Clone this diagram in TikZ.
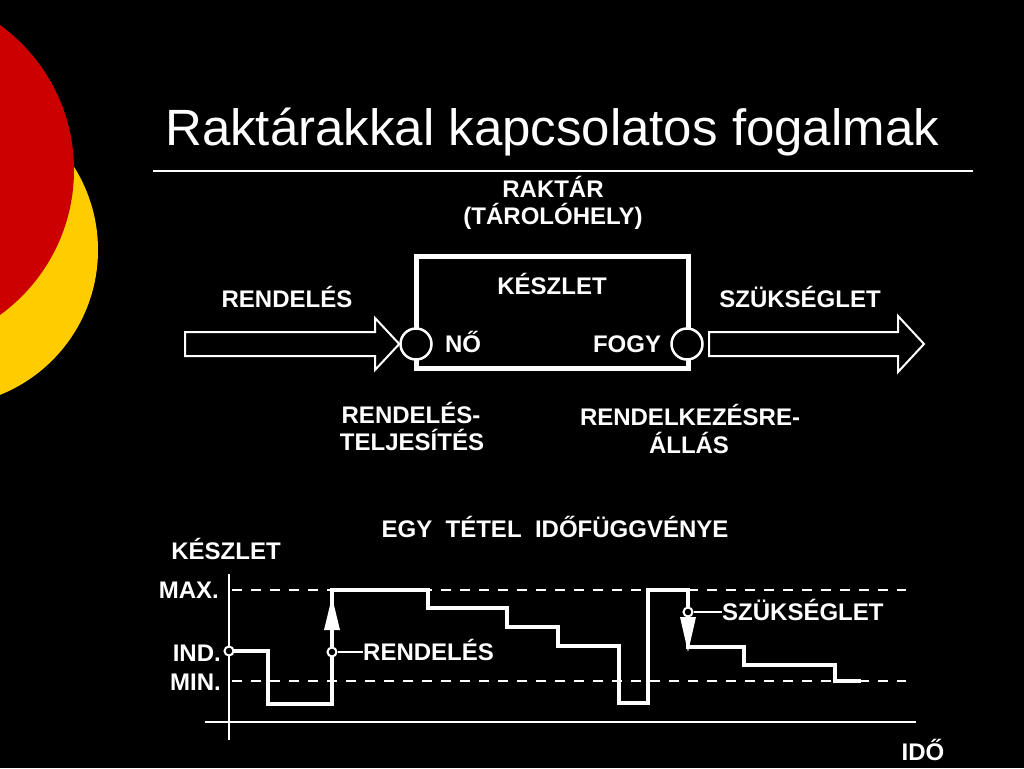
\documentclass[tikz,border=0pt]{standalone}
\usepackage{fontspec}
\setmainfont{Liberation Sans}
\definecolor{dotred}{HTML}{CC0000}
\definecolor{dotyellow}{HTML}{FFCC00}
\begin{document}
\begin{tikzpicture}[x=1pt,y=-1pt,
  lbl/.style={text=white,font=\bfseries\fontsize{24}{28}\selectfont,anchor=base,inner sep=0pt},
  lblw/.style={lbl,anchor=base west},
  lble/.style={lbl,anchor=base east},
  blockarrow/.style={draw=white,line width=2pt,line join=miter},
  port/.style={circle,draw=white,fill=black,line width=2.5pt,minimum size=31pt,inner sep=0pt},
  dot/.style={circle,draw=white,fill=black,line width=2pt,minimum size=9pt,inner sep=0pt},
  axisline/.style={white,line width=2.5pt},
  levelline/.style={white,line width=2.5pt,dash pattern=on 10pt off 9pt},
  stepline/.style={white,line width=4pt,line join=miter},
  leader/.style={white,line width=1.5pt}]
\fill[black] (0,0) rectangle (1024,768);
\useasboundingbox (0,0) rectangle (1024,768);
% decorative discs
\fill[dotyellow] (-58,250) circle (156pt);
\fill[dotred] (-105,170) circle (179pt);
% title
\node[anchor=base west,text=white,font=\fontsize{51}{60}\selectfont,inner sep=0pt] (title) at (165,145) {Raktárakkal kapcsolatos fogalmak};
\coordinate (rulel) at (153,171);
\coordinate (ruler) at (973,171);
\draw[white,line width=1.2pt] (rulel) -- (ruler);
% upper diagram
\node[lbl] (raktar) at (553,197) {RAKTÁR};
\node[lbl] (tarolo) at (553,224) {(TÁROLÓHELY)};
\node[draw=white,line width=5pt,minimum width=272pt,minimum height=112pt,inner sep=0pt] (box) at (552,312) {};
\node[lbl] (keszlet) at (552,294) {KÉSZLET};
\node[port] (in) at (416,344) {};
\node[port] (out) at (687,344) {};
\node[lbl] (no) at (463,352) {NŐ};
\node[lbl] (fogy) at (627,352) {FOGY};
\draw[blockarrow] (185,332) -- (375,332) -- (375,318) -- (in.west) -- (375,370) -- (375,356) -- (185,356) -- cycle;
\coordinate (outtip) at (924,344);
\draw[blockarrow] (709,332) -- (898,332) -- (898,316) -- (outtip) -- (898,372) -- (898,356) -- (709,356) -- cycle;
\node[lbl] (rendeles) at (287,307) {RENDELÉS};
\node[lbl] (szukseglet) at (800,307) {SZÜKSÉGLET};
\node[lbl] (rt1) at (411,423) {RENDELÉS-};
\node[lbl] (rt2) at (412,450) {TELJESÍTÉS};
\node[lbl] (ra1) at (690,425) {RENDELKEZÉSRE-};
\node[lbl] (ra2) at (689,453) {ÁLLÁS};
% lower diagram
\node[lbl] (chart) at (555,537) {EGY~~TÉTEL~~IDŐFÜGGVÉNYE};
\node[lbl] (ylab) at (226,559) {KÉSZLET};
\node[lbl] (xlab) at (923,760) {IDŐ};
\coordinate (ytop) at (229,574);
\coordinate (ybot) at (229,740);
\coordinate (xl) at (205,722);
\coordinate (xr) at (916,722);
\coordinate (maxl) at (232,590);
\coordinate (maxr) at (906,590);
\coordinate (minl) at (232,681);
\coordinate (minr) at (906,681);
\draw[levelline] (maxl) -- (maxr);
\draw[levelline] (minl) -- (minr);
\draw[axisline] (ytop) -- (ybot);
\draw[axisline] (xl) -- (xr);
\node[lble] (max) at (219,598) {MAX.};
\node[lble] (ind) at (221,661) {IND.};
\node[lble] (min) at (221,690) {MIN.};
\draw[stepline] (229,651) -- (268,651) -- (268,704) -- (332,704) -- (332,590) -- (428,590) -- (428,608) -- (507,608) -- (507,627) -- (558,627) -- (558,646) -- (619,646) -- (619,703) -- (648,703) -- (648,590) -- (688,590) -- (688,647) -- (744,647) -- (744,665) -- (835,665) -- (835,681) -- (861,681);
\fill[white] (324,630) -- (340,630) -- (332,597) -- cycle;
\fill[white] (680,617) -- (696,617) -- (688,652) -- cycle;
\node[dot] (indot) at (229,651) {};
\node[dot] (rdot) at (332,652) {};
\node[dot] (sdot) at (688,612) {};
\node[lblw] (rlab) at (363,660) {RENDELÉS};
\node[lblw] (slab) at (722,620) {SZÜKSÉGLET};
\draw[leader] (rdot.east) -- (rlab.west |- rdot.east);
\draw[leader] (sdot.east) -- (slab.west |- sdot.east);
\end{tikzpicture}
\end{document}
